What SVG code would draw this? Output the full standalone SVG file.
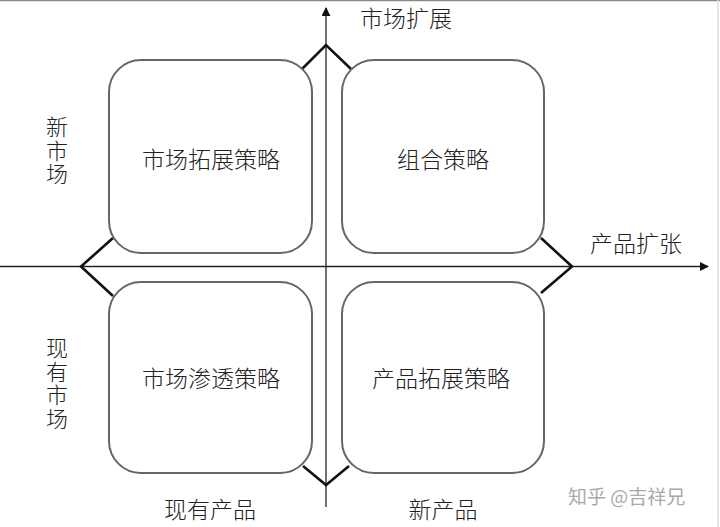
<svg xmlns="http://www.w3.org/2000/svg" width="720" height="527" viewBox="0 0 720 527">
<defs>
<style>
.box{fill:#fff;stroke:#666;stroke-width:2}
.axis{stroke:#222;stroke-width:1.3;fill:none}
.dia{stroke:#111;stroke-width:2.6;fill:none;stroke-linejoin:miter}
.t{font-family:"Noto Sans CJK SC","Noto Sans CJK JP",sans-serif;font-size:23px;font-weight:300;fill:#222;text-anchor:middle;dominant-baseline:central}
.v{font-family:"Noto Sans CJK SC","Noto Sans CJK JP",sans-serif;font-size:22px;font-weight:300;fill:#222;writing-mode:vertical-rl;letter-spacing:1.5px}
.wm{font-family:"Noto Sans CJK SC",sans-serif;font-size:19px;fill:#aaa}
</style>
<marker id="arr" viewBox="0 0 10 10" refX="9" refY="5" markerWidth="9" markerHeight="9" markerUnits="userSpaceOnUse" orient="auto">
<path d="M0,0 L10,5 L0,10 z" fill="#111"/>
</marker>
</defs>
<rect width="720" height="527" fill="#fff"/>
<line x1="0" y1="0.5" x2="720" y2="0.5" stroke="#888" stroke-width="1.5"/>
<line x1="718" y1="0" x2="718" y2="527" stroke="#ddd" stroke-width="1.5"/>
<g id="connectors">
<line class="axis" x1="0" y1="266.5" x2="708" y2="266.5" marker-end="url(#arr)"/>
<line class="axis" x1="326" y1="507" x2="326" y2="8" marker-end="url(#arr)"/>
<polyline class="dia" points="302,69 326,45 351,69"/>
<polyline class="dia" points="113,238 81,266.5 113,296"/>
<polyline class="dia" points="541,238 572,266.5 541,293"/>
<polyline class="dia" points="303,466 326,485 349,466"/>
</g>
<g id="tl"><rect class="box" x="109" y="60" width="203" height="193" rx="32"/><text class="t" x="211" y="158">市场拓展策略</text></g>
<g id="tr"><rect class="box" x="342" y="60" width="202" height="193" rx="32"/><text class="t" x="443" y="158">组合策略</text></g>
<g id="bl"><rect class="box" x="109" y="282" width="203" height="191" rx="32"/><text class="t" x="211" y="377">市场渗透策略</text></g>
<g id="br"><rect class="box" x="342" y="282" width="202" height="191" rx="32"/><text class="t" x="441" y="377">产品拓展策略</text></g>
<g id="labels">
<text class="t" x="406" y="17">市场扩展</text>
<text class="t" x="636" y="242">产品扩张</text>
<text class="v" x="57" y="116">新市场</text>
<text class="v" x="57" y="337">现有市场</text>
<text class="t" x="210" y="508">现有产品</text>
<text class="t" x="443" y="508">新产品</text>
<text class="wm" x="568" y="504">知乎 @吉祥兄</text>
</g>
</svg>
